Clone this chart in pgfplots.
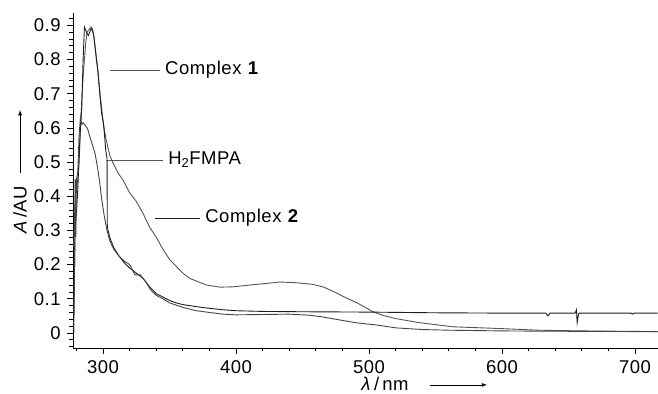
\documentclass[border=0pt]{standalone}
\usepackage{fontspec}
\setmainfont{Liberation Sans}[LetterSpace=3]
\usepackage{pgfplots}
\pgfplotsset{compat=1.18}
\usetikzlibrary{calc}
\definecolor{cgray}{HTML}{555555}
\definecolor{cdark}{HTML}{1E1E1E}
\begin{document}
\fontsize{18.5}{21}\selectfont
\begin{tikzpicture}
\begin{axis}[
  name=ax,
  scale only axis,
  width=585pt, height=335pt,
  xmin=277.4, xmax=717.3,
  ymin=-0.044, ymax=0.936,
  axis x line*=bottom, axis y line*=left,
  axis line style={line width=0.8pt},
  xtick={300,400,500,600,700},
  minor xtick={280,320,340,360,380,420,440,460,480,520,540,560,580,620,640,660,680},
  ytick={0,0.1,0.2,0.3,0.4,0.5,0.6,0.7,0.8,0.9},
  minor ytick={-0.04,-0.02,0.02,0.04,0.06,0.08,0.12,0.14,0.16,0.18,0.22,0.24,0.26,0.28,0.32,0.34,0.36,0.38,0.42,0.44,0.46,0.48,0.52,0.54,0.56,0.58,0.62,0.64,0.66,0.68,0.72,0.74,0.76,0.78,0.82,0.84,0.86,0.88,0.92},
  tick align=outside,
  major tick length=6pt, minor tick length=3.5pt,
  tick style={line width=0.7pt, color=black},
  /pgf/number format/assume math mode=true,
  /pgf/number format/.cd, fixed, precision=1,
  /pgfplots/.cd,
  xticklabel style={font=\fontsize{18.5}{21}\selectfont},
  yticklabel style={font=\fontsize{18.5}{21}\selectfont},
  clip=false,
]
% Complex 2 (broad)
\addplot[cgray, line width=0.9pt] coordinates {
(278,0.25)(279,0.40)(280,0.42)(281,0.45)(282,0.50)(283,0.60)(284,0.68)(285,0.75)(286,0.80)(287,0.85)(288,0.88)(289,0.885)(290,0.89)(291,0.895)(292,0.89)(293,0.87)(294,0.84)(296,0.77)(298,0.69)(300,0.62)(302,0.57)(303,0.555)(305,0.52)(307.5,0.497)(311,0.47)(315,0.447)(320,0.41)(325,0.385)(330,0.35)(335,0.31)(340,0.28)(345,0.245)(350,0.215)(355,0.195)(360,0.175)(365,0.16)(370,0.152)(378,0.14)(388,0.134)(398,0.135)(410,0.14)(423,0.145)(433,0.149)(445,0.147)(458,0.142)(466,0.134)(474,0.12)(482,0.104)(491,0.088)(503,0.062)(510,0.052)(520,0.042)(538,0.03)(563,0.018)(598,0.013)(628,0.008)(660,0.006)(717,0.004)
};
% Complex 1 (tall, flat tail)
\addplot[cdark, line width=0.9pt] coordinates {
(278,0.05)(279,0.30)(280,0.35)(281,0.42)(282,0.52)(283,0.60)(284,0.66)(285,0.80)(286,0.895)(287,0.885)(288,0.875)(289,0.87)(290,0.88)(291,0.89)(292,0.885)(293,0.87)(295,0.80)(296,0.77)(298,0.68)(299,0.64)(300,0.62)(301,0.585)(302,0.535)(303,0.51)(303.2,0.31)(305,0.28)(308,0.25)(312,0.225)(316,0.205)(320,0.19)(325,0.175)(330,0.16)(335,0.135)(340,0.115)(345,0.105)(350,0.095)(355,0.088)(360,0.083)(370,0.077)(380,0.072)(390,0.068)(400,0.065)(420,0.063)(450,0.062)(500,0.061)(550,0.059)(600,0.058)(633,0.058)(634.5,0.05)(636,0.058)(655,0.058)(656,0.068)(656.5,0.03)(657.5,0.055)(658,0.058)(697,0.058)(698,0.055)(699,0.058)(717,0.058)
};
% H2FMPA (0.6 peak)
\addplot[cgray!80!black, line width=0.9pt] coordinates {
(278,0.00)(278.5,0.15)(279,0.45)(279.5,0.28)(280,0.45)(281,0.47)(282,0.58)(283,0.63)(284,0.61)(285,0.615)(286,0.61)(287,0.605)(288,0.60)(289,0.59)(290,0.575)(292,0.55)(294,0.525)(296,0.48)(297.5,0.44)(299,0.39)(301,0.34)(303,0.30)(305,0.27)(308,0.245)(312,0.225)(316,0.21)(320,0.20)(324,0.17)(328,0.17)(332,0.15)(336,0.125)(340,0.11)(345,0.10)(350,0.088)(360,0.075)(370,0.065)(380,0.06)(390,0.055)(400,0.053)(420,0.054)(440,0.055)(455,0.052)(465,0.047)(475,0.04)(490,0.03)(506,0.023)(520,0.015)(540,0.01)(560,0.008)(600,0.006)(640,0.005)(700,0.004)(717,0.004)
};
% labels
\draw[cgray, line width=0.8pt] (axis cs:305.3,0.769) -- (axis cs:342.9,0.769);
\node[anchor=west, inner sep=0pt] at (axis cs:346.6,0.769) {Complex \textbf{1}};
\draw[cgray, line width=0.8pt] (axis cs:302.3,0.506) -- (axis cs:345.1,0.506);
\node[anchor=west, inner sep=0pt] at (axis cs:348.9,0.506) {H\textsubscript{2}FMPA};
\draw[cdark, line width=0.8pt] (axis cs:339.1,0.336) -- (axis cs:372.9,0.336);
\node[anchor=west, inner sep=0pt] at (axis cs:376.7,0.336) {Complex \textbf{2}};
% axis labels
\node[rotate=90, inner sep=0pt] at (axis cs:237.6,0.36) {\textit{A}\,/AU};
\draw[-latex, line width=0.8pt] (axis cs:237.6,0.468) -- (axis cs:237.6,0.652);
\node[inner sep=0pt, anchor=base] at (axis cs:512,-0.168) {\textit{λ}\,/\,nm};
\draw[-latex, line width=0.8pt] (axis cs:545.9,-0.152) -- (axis cs:588.7,-0.152);
\end{axis}
\pgfresetboundingbox
\path ($(ax.south west)+(-73pt,-46pt)$) rectangle ($(ax.north east)+(0pt,13pt)$);
\end{tikzpicture}
\end{document}
